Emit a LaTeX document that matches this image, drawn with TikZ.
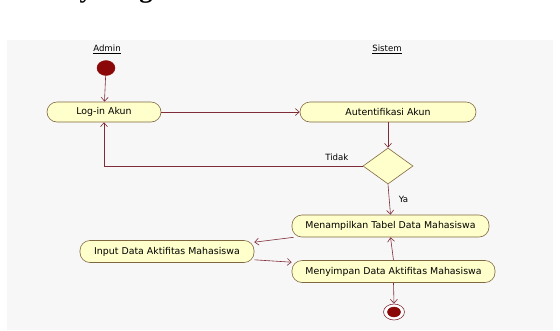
\documentclass[tikz,border=0pt]{standalone}
\usepackage{fontspec}
\setsansfont{DejaVu Sans}
\newfontfamily\judulfont{Liberation Serif}
\usepackage{tikz}
\usetikzlibrary{positioning,shapes.geometric,arrows.meta,calc}
\definecolor{garis}{RGB}{128,44,56}
\definecolor{kotak}{RGB}{255,255,204}
\definecolor{tepi}{RGB}{128,104,64}
\definecolor{merah}{RGB}{138,8,8}
\definecolor{latar}{RGB}{247,247,247}
\tikzset{
    >={Straight Barb[length=4pt,width=7pt]},
    aktivitas/.style={
        rectangle,
        rounded corners=10pt,
        fill=kotak,
        draw=tepi, line width=0.6pt,
        minimum height=20pt,
        text centered,
        font={\sffamily\fontsize{9.4pt}{11pt}\selectfont}
    },
    keputusan/.style={
        diamond,
        fill=kotak,
        draw=tepi, line width=0.6pt,
        minimum width=50pt,
        minimum height=36pt,
        inner sep=0pt
    },
    awal/.style={
        ellipse, fill=merah, draw=merah,
        minimum width=18pt, minimum height=15pt, inner sep=0pt
    },
    akhirluar/.style={
        ellipse, fill=white, draw=garis, line width=0.6pt,
        minimum width=21pt, minimum height=16pt, inner sep=0pt
    },
    alur/.style={draw=garis, line width=0.6pt, ->},
    label/.style={font={\sffamily\fontsize{8.6pt}{10pt}\selectfont}},
    judul/.style={font={\judulfont\bfseries\fontsize{26.5pt}{30pt}\selectfont}},
}

\begin{document}
\begin{tikzpicture}[x=1pt,y=-1pt]
\useasboundingbox (0,0) rectangle (560,330);
\clip (0,0) rectangle (560,330);
\fill[white] (0,0) rectangle (560,330);
\node[judul, anchor=base west, inner sep=0pt] (judul) at (3,-3) {Activity Diagram};
\fill[latar] (7,40) rectangle (553,330);
% swimlane
\node[label] (admin) at (107,49) {\underline{Admin}};
\node[label] (sistem) at (387,49) {\underline{Sistem}};
% aktivitas
\node[awal] (mulai) at (106,68) {};
\node[aktivitas, minimum width=114pt] (login) at (104,112) {Log-in Akun};
\node[aktivitas, minimum width=176pt] (auth) at (388,112) {Autentifikasi Akun};
\node[keputusan] (cek) at (388,166) {};
\node[aktivitas, minimum width=197pt, minimum height=22pt] (tampil) at (390.5,226) {Menampilkan Tabel Data Mahasiswa};
\node[aktivitas, minimum width=174pt, minimum height=22pt] (input) at (167,251.5) {Input Data Aktifitas Mahasiswa};
\node[aktivitas, minimum width=203pt, minimum height=22pt] (simpan) at (393.5,271.5) {Menyimpan Data Aktifitas Mahasiswa};
\node[akhirluar] (selesai) at (394,312) {};
\node[awal, minimum width=13pt, minimum height=10pt] (selesaiisi) at (selesai) {};
% alur
\draw[alur] (mulai) -- (login);
\draw[alur] (login) -- (auth);
\draw[alur] (auth) -- (cek);
\draw[alur] (cek.west) -| (login.south)
    node[label, pos=0.05, above=2pt] (tidak) {Tidak};
\draw[alur] (cek.south) -- (tampil.north)
    node[label, midway, right=6pt] (ya) {Ya};
\draw[alur] ([xshift=2pt]tampil.south west) -- ([yshift=-2pt]input.north east);
\draw[alur] ([yshift=3pt]input.south east) -- ([yshift=-2pt]simpan.north west);
\draw[alur] (simpan.north) -- (tampil.south);
\draw[alur] (simpan.south) -- (selesai.north);
\end{tikzpicture}
\end{document}
